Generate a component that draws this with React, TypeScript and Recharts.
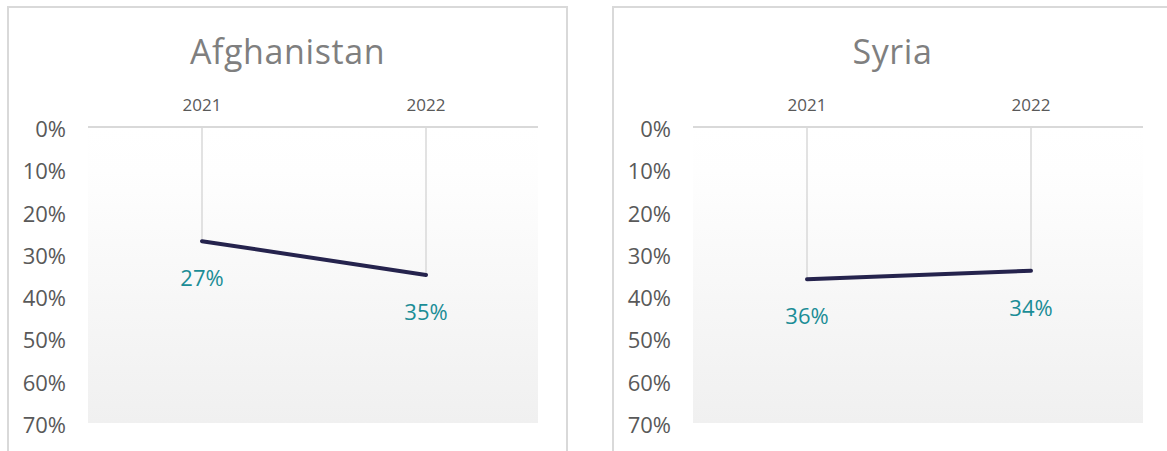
import {
  LineChart,
  Line,
  XAxis,
  YAxis,
  CartesianGrid,
  ReferenceLine,
  LabelList,
} from "recharts";

// ---------------------------------------------------------------------------
// Data
// ---------------------------------------------------------------------------

const years = ["2021", "2022"];
const countries = ["Afghanistan", "Syria"];
const afghanistanShares = [0.27, 0.35];
const syriaShares = [0.36, 0.34];
const shareTicks = [0, 0.1, 0.2, 0.3, 0.4, 0.5, 0.6, 0.7];

const sharesByCountry = [afghanistanShares, syriaShares];

// ---------------------------------------------------------------------------
// Styles
// ---------------------------------------------------------------------------

const FONT = "'Open Sans', sans-serif";
const lineColor = "#25234d";
const labelColor = "#1b8d96";
const tickColor = "#595959";
const borderColor = "#d9d9d9";

const CHART_W = 580;
const CHART_H = 451;
const PANEL_STEP = 605;

const pct = (v: number) => `${Math.round(v * 100)}%`;

function ValueLabel(props: any) {
  const { x, y, value } = props;
  if (x == null || y == null) return null;
  return (
    <text
      x={x}
      y={y + 36}
      textAnchor="middle"
      dominantBaseline="central"
      fill={labelColor}
      fontSize={22}
      fontFamily={FONT}
    >
      {pct(value)}
    </text>
  );
}

function ShareTick(props: any) {
  const { x, y, payload } = props;
  return (
    <text
      x={x}
      y={y + 1}
      textAnchor="end"
      dominantBaseline="central"
      fill={tickColor}
      fontSize={22}
      fontFamily={FONT}
    >
      {pct(payload.value)}
    </text>
  );
}

function CountryPanel({ index }: { index: number }) {
  const title = countries[index];
  const shares = sharesByCountry[index];
  const data = years.map((year, i) => ({ year, share: shares[i] }));
  const left = index * PANEL_STEP;
  const gradId = `plot-bg-${index}`;

  return (
    <>
      <div
        style={{
          position: "absolute",
          left: left + 7,
          top: 6,
          width: 561,
          height: 470,
          border: `2px solid ${borderColor}`,
          boxSizing: "border-box",
        }}
      />
      <div
        style={{
          position: "absolute",
          left: left + 7,
          top: 34,
          width: 561,
          textAlign: "center",
          fontFamily: FONT,
          fontSize: 34,
          lineHeight: "34px",
          letterSpacing: 0.6,
          color: "#7f7f7f",
        }}
      >
        {title}
      </div>
      <div style={{ position: "absolute", left, top: 0 }}>
        <LineChart
          width={CHART_W}
          height={CHART_H}
          data={data}
          margin={{ top: 87, right: 42, bottom: 28, left: 28 }}
        >
          <defs>
            <linearGradient id={gradId} x1="0" y1="0" x2="0" y2="1">
              <stop offset="0%" stopColor="#ffffff" />
              <stop offset="15%" stopColor="#fefefe" />
              <stop offset="100%" stopColor="#f0f0f0" />
            </linearGradient>
          </defs>
          <CartesianGrid horizontal={false} vertical={false} fill={`url(#${gradId})`} />
          <XAxis
            dataKey="year"
            orientation="top"
            height={40}
            interval={0}
            padding={{ left: 114, right: 112 }}
            axisLine={{ stroke: borderColor, strokeWidth: 2 }}
            tickLine={false}
            tickSize={0}
            tickMargin={16}
            tick={{ fill: tickColor, fontSize: 17, fontFamily: FONT }}
          />
          <YAxis
            type="number"
            domain={[0, 0.7]}
            reversed
            ticks={shareTicks}
            interval={0}
            width={60}
            axisLine={false}
            tickLine={false}
            tickSize={0}
            tickMargin={22}
            tick={<ShareTick />}
          />
          {data.map((d) => (
            <ReferenceLine
              key={`drop-${d.year}`}
              segment={[
                { x: d.year, y: 0 },
                { x: d.year, y: d.share },
              ]}
              stroke={borderColor}
              strokeWidth={1.5}
              ifOverflow="visible"
            />
          ))}
          <Line
            type="linear"
            dataKey="share"
            stroke={lineColor}
            strokeWidth={4}
            strokeLinecap="round"
            dot={false}
            activeDot={false}
            isAnimationActive={false}
          >
            <LabelList dataKey="share" content={<ValueLabel />} />
          </Line>
        </LineChart>
      </div>
    </>
  );
}

export default function App() {
  return (
    <div
      style={{
        position: "absolute",
        left: 0,
        top: 0,
        width: 1167,
        height: 451,
        overflow: "hidden",
        background: "#ffffff",
      }}
    >
      {countries.map((c, i) => (
        <CountryPanel key={c} index={i} />
      ))}
    </div>
  );
}
